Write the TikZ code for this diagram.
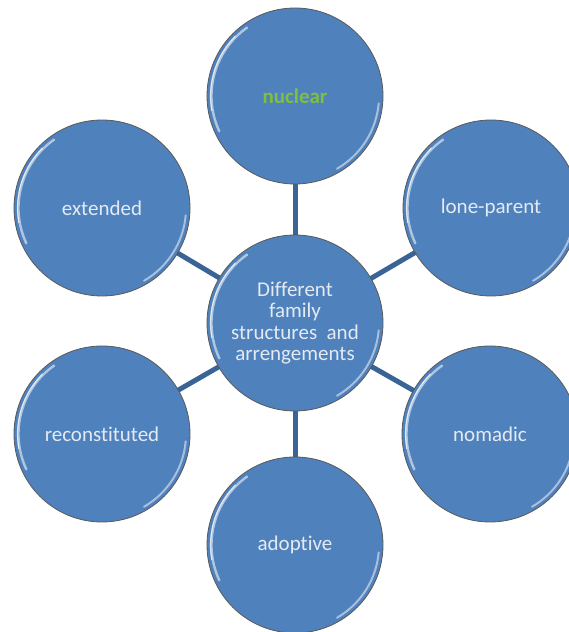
\documentclass[tikz,border=0pt]{standalone}
\usepackage{fontspec}
\setmainfont{Carlito}[Ligatures={NoCommon}]
\usetikzlibrary{backgrounds}
\definecolor{bubblefill}{RGB}{79,129,189}
\definecolor{bubbletext}{RGB}{228,234,242}
\definecolor{linkblue}{RGB}{58,100,150}
\definecolor{nucgreen}{RGB}{126,192,62}
\tikzset{
  bubble/.style={circle, minimum size=176pt, inner sep=0pt, fill=bubblefill,
    draw=black!65, line width=0.8pt, text=bubbletext, align=center,
    font=\fontsize{21}{21.5}\selectfont,
    path picture={
      \draw[white, opacity=0.55, line width=2.4pt, line cap=round]
        (path picture bounding box.center) ++(125:83.5) arc (125:205:83.5);
      \draw[white, opacity=0.7, line width=1.2pt, line cap=round]
        (path picture bounding box.center) ++(135:84.5) arc (135:190:84.5);
      \draw[white, opacity=0.5, line width=2pt, line cap=round]
        (path picture bounding box.center) ++(-5:84) arc (-5:-60:84);
    }},
  link/.style={draw=linkblue, line width=5pt}
}
\begin{document}
\begin{tikzpicture}[x=1pt,y=1pt]
\useasboundingbox (0,0) rectangle (568,632);
\node[bubble] (c) at (295,309) {Different\\family\\structures\ \ and\\arrengements};
\node[bubble, text=nucgreen, font=\fontsize{21}{21.5}\selectfont\bfseries] (nuc) at (295,536) {nuclear};
\node[bubble] (ext) at (102,424) {extended};
\node[bubble] (lone) at (491,424) {lone-parent};
\node[bubble] (rec) at (102,198) {reconstituted};
\node[bubble] (nom) at (490,198) {nomadic};
\node[bubble] (ado) at (295,87) {adoptive};
\begin{scope}[on background layer]
\foreach \n in {nuc,ext,lone,rec,nom,ado}{
  \path[link] (c.center) -- (\n.center);
}
\end{scope}
\end{tikzpicture}
\end{document}
